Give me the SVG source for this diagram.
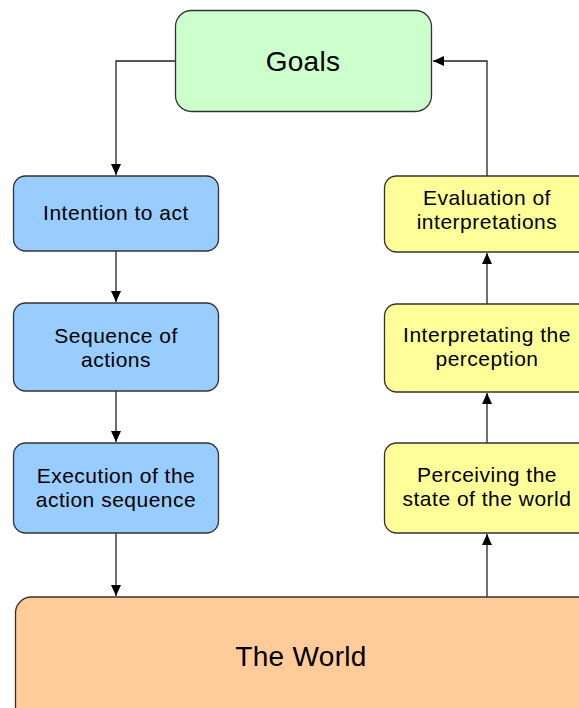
<svg xmlns="http://www.w3.org/2000/svg" width="579" height="708" viewBox="0 0 579 708">
  <style>
    .box { stroke: #333333; stroke-width: 1.3; }
    .goal { fill: #CCFFCC; }
    .act { fill: #99CCFF; }
    .eval { fill: #FFFF99; }
    .world { fill: #FFCC99; }
    text { font-family: "Liberation Sans", Arial, sans-serif; fill: #000000; text-anchor: middle; }
    .t { font-size: 21px; letter-spacing: 0.5px; }
    .big { font-size: 28px; letter-spacing: 0.3px; }
    .link { fill: none; stroke: #222222; stroke-width: 1.3; }
  </style>
  <defs>
    <marker id="arrow" markerWidth="12" markerHeight="10" refX="11" refY="5" orient="auto" markerUnits="userSpaceOnUse">
      <path d="M0,0 L11,5 L0,10 Z" fill="#000000"/>
    </marker>
  </defs>
  <rect width="579" height="708" fill="#FFFFFF"/>

  <g id="connectors">
    <path class="link" d="M175,61 H116 V175" marker-end="url(#arrow)"/>
    <path class="link" d="M487,176 V61 H433" marker-end="url(#arrow)"/>
    <path class="link" d="M116,251 V302" marker-end="url(#arrow)"/>
    <path class="link" d="M116,391 V442" marker-end="url(#arrow)"/>
    <path class="link" d="M116,533 V596" marker-end="url(#arrow)"/>
    <path class="link" d="M487,597 V534" marker-end="url(#arrow)"/>
    <path class="link" d="M487,443 V393" marker-end="url(#arrow)"/>
    <path class="link" d="M487,304 V253" marker-end="url(#arrow)"/>
  </g>

  <g id="goals">
    <rect class="box goal" x="175.5" y="10.5" width="256" height="101" rx="16"/>
    <text class="big" x="303" y="71">Goals</text>
  </g>

  <g id="intention">
    <rect class="box act" x="13.5" y="176" width="205" height="75" rx="12"/>
    <text class="t" x="116" y="220">Intention to act</text>
  </g>
  <g id="sequence">
    <rect class="box act" x="13.5" y="303" width="205" height="88" rx="12"/>
    <text class="t" x="116" y="343">Sequence of</text>
    <text class="t" x="116" y="367">actions</text>
  </g>
  <g id="execution">
    <rect class="box act" x="13.5" y="443" width="205" height="90" rx="12"/>
    <text class="t" x="116" y="483">Execution of the</text>
    <text class="t" x="116" y="507">action sequence</text>
  </g>

  <g id="evaluation">
    <rect class="box eval" x="384.5" y="176" width="206" height="76" rx="12"/>
    <text class="t" x="487" y="205">Evaluation of</text>
    <text class="t" x="487" y="229">interpretations</text>
  </g>
  <g id="interpretation">
    <rect class="box eval" x="384.5" y="304" width="206" height="88" rx="12"/>
    <text class="t" x="487" y="342">Interpretating the</text>
    <text class="t" x="487" y="366">perception</text>
  </g>
  <g id="perception">
    <rect class="box eval" x="384.5" y="443" width="206" height="90" rx="12"/>
    <text class="t" x="487" y="482">Perceiving the</text>
    <text class="t" x="487" y="506">state of the world</text>
  </g>

  <g id="world">
    <rect class="box world" x="15.5" y="597" width="580" height="130" rx="16"/>
    <text class="big" x="301" y="666">The World</text>
  </g>
</svg>
